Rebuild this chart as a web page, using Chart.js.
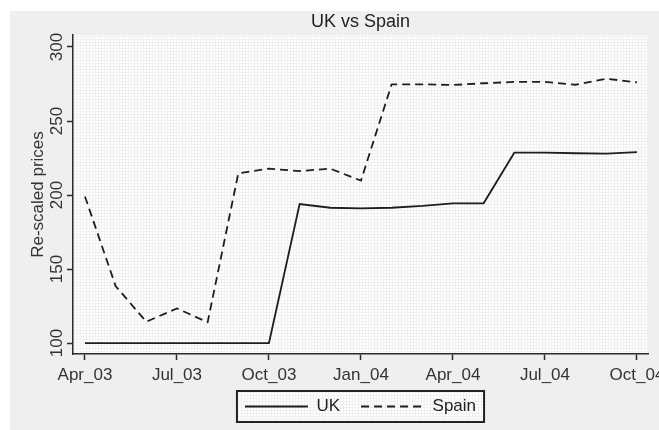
<!DOCTYPE html>
<html>
<head>
<meta charset="utf-8">
<title>UK vs Spain</title>
<script src="https://cdn.jsdelivr.net/npm/chart.js@4.4.0/dist/chart.umd.min.js"></script>
<style>
  html, body { margin: 0; padding: 0; background: #fff; }
  #wrap { width: 659px; height: 430px; }
</style>
</head>
<body>
<div id="wrap"><canvas id="priceChart" width="659" height="430"></canvas></div>
<script>
// monthly observations, Apr 2003 - Oct 2004
const months = ['Apr_03', 'May_03', 'Jun_03', 'Jul_03', 'Aug_03', 'Sep_03', 'Oct_03',
  'Nov_03', 'Dec_03', 'Jan_04', 'Feb_04', 'Mar_04', 'Apr_04', 'May_04', 'Jun_04',
  'Jul_04', 'Aug_04', 'Sep_04', 'Oct_04'];
const tickMonths = [0, 3, 6, 9, 12, 15, 18];
const yTicks = [100, 150, 200, 250, 300];

const ukPrices = [100, 100, 100, 100, 100, 100, 100, 193.9, 191.4, 191.0, 191.4, 192.6,
  194.4, 194.4, 228.6, 228.6, 228.2, 228.0, 229.0];
const spainPrices = [199.0, 138.5, 114.4, 123.4, 114.0, 214.6, 217.8, 216.2, 217.8, 209.7,
  274.8, 274.8, 274.3, 275.5, 276.4, 276.4, 274.5, 278.6, 276.1];

const FONT = '"Liberation Sans", Arial, sans-serif';
const INK = '#1e1e1e';
const TEXT = '#333';

const toPoints = arr => arr.map((v, i) => ({ x: i, y: v }));

// white panel with a faint fine grid, used for plot region and legend box
function gridPanel(ctx, x, y, w, h) {
  ctx.save();
  ctx.fillStyle = '#fff';
  ctx.fillRect(x, y, w, h);
  ctx.strokeStyle = '#f0f0f0';
  ctx.lineWidth = 1;
  ctx.beginPath();
  for (let gx = x + 1.5; gx < x + w; gx += 3) { ctx.moveTo(gx, y); ctx.lineTo(gx, y + h); }
  for (let gy = y + 1.5; gy < y + h; gy += 3) { ctx.moveTo(x, gy); ctx.lineTo(x + w, gy); }
  ctx.stroke();
  ctx.restore();
}

const backdrop = {
  id: 'backdrop',
  beforeDraw(chart) {
    const { ctx, chartArea: a, width, height } = chart;
    ctx.save();
    ctx.fillStyle = '#fff';
    ctx.fillRect(0, 0, width, height);
    ctx.fillStyle = '#efefef';
    ctx.fillRect(10, 11, width - 10, height - 11);
    ctx.restore();
    gridPanel(ctx, a.left, a.top, a.right - a.left, a.bottom - a.top);

    // framed legend
    const boxes = chart.legend.legendHitBoxes;
    if (boxes && boxes.length) {
      const left = Math.min(...boxes.map(b => b.left)) - 8;
      const right = Math.max(...boxes.map(b => b.left + b.width)) + 8;
      const mid = boxes[0].top + boxes[0].height / 2;
      const top = mid - 15.5, bottom = mid + 15.5;
      gridPanel(ctx, left, top, right - left, bottom - top);
      ctx.save();
      ctx.strokeStyle = '#222';
      ctx.lineWidth = 2;
      ctx.strokeRect(left, top, right - left, bottom - top);
      ctx.restore();
    }
  }
};

// tick labels: x centred under the ticks, y turned to read bottom to top
const tickText = {
  id: 'tickText',
  afterDraw(chart) {
    const { ctx, scales: { x, y } } = chart;
    ctx.save();
    ctx.font = '17px ' + FONT;
    ctx.fillStyle = TEXT;
    ctx.textAlign = 'center';
    ctx.textBaseline = 'alphabetic';
    x.ticks.forEach(t => {
      ctx.fillText(months[t.value], x.getPixelForValue(t.value), x.top + 25.5);
    });
    y.ticks.forEach(t => {
      ctx.save();
      ctx.translate(y.right - 11, y.getPixelForValue(t.value));
      ctx.rotate(-Math.PI / 2);
      ctx.fillText(String(t.value), 0, 0);
      ctx.restore();
    });
    ctx.restore();
  }
};

Chart.defaults.font.family = FONT;

const axisLine = { color: '#2b2b2b', width: 1.5 };
const tickMarks = { drawOnChartArea: false, drawTicks: true, tickLength: 6, tickColor: '#2b2b2b', tickWidth: 1.5 };

new Chart(document.getElementById('priceChart'), {
  type: 'line',
  data: {
    datasets: [
      {
        label: 'UK',
        data: toPoints(ukPrices),
        borderColor: INK,
        borderWidth: 1.8,
        pointRadius: 0,
        tension: 0,
        fill: false
      },
      {
        label: 'Spain',
        data: toPoints(spainPrices),
        borderColor: INK,
        borderWidth: 1.8,
        borderDash: [8, 5],
        pointRadius: 0,
        tension: 0,
        fill: false
      }
    ]
  },
  options: {
    responsive: false,
    animation: false,
    devicePixelRatio: 1,
    layout: { padding: { left: 0, right: 11, top: 0, bottom: 5 } },
    plugins: {
      title: {
        display: true,
        text: 'UK vs Spain',
        fullSize: false,
        color: '#222',
        font: { size: 18, weight: 'normal' },
        padding: { top: 11, bottom: 2.4 }
      },
      legend: {
        position: 'bottom',
        fullSize: false,
        labels: {
          usePointStyle: true,
          pointStyle: 'line',
          pointStyleWidth: 63,
          color: '#222',
          font: { size: 17 },
          padding: 21,
          generateLabels(chart) {
            const items = Chart.defaults.plugins.legend.labels.generateLabels(chart);
            items.forEach(item => {
              const ds = chart.data.datasets[item.datasetIndex];
              item.lineDash = ds.borderDash || [];
              item.lineWidth = ds.borderWidth;
              item.strokeStyle = ds.borderColor;
            });
            return items;
          }
        }
      },
      tooltip: { enabled: false }
    },
    scales: {
      x: {
        type: 'linear',
        min: -0.39,
        max: 18.36,
        afterBuildTicks: s => { s.ticks = tickMonths.map(v => ({ value: v })); },
        afterFit: s => { s.height = 23; s.paddingLeft = 0; s.paddingRight = 0; },
        border: axisLine,
        grid: tickMarks,
        ticks: { display: false }
      },
      y: {
        min: 92.6,
        max: 308.1,
        afterBuildTicks: s => { s.ticks = yTicks.map(v => ({ value: v })); },
        afterFit: s => { s.width = 73; s.paddingTop = 0; s.paddingBottom = 0; },
        border: axisLine,
        grid: tickMarks,
        ticks: { display: false },
        title: {
          display: true,
          text: 'Re-scaled prices',
          color: TEXT,
          font: { size: 17 },
          padding: { top: 28, bottom: 0 }
        }
      }
    }
  },
  plugins: [backdrop, tickText]
});
</script>
</body>
</html>
